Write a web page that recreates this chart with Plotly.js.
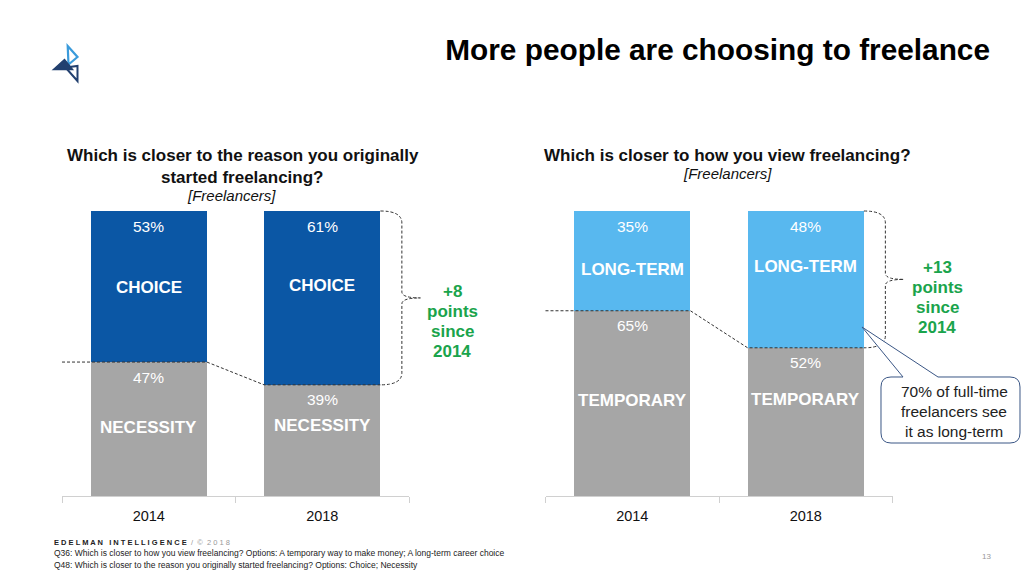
<!DOCTYPE html>
<html>
<head>
<meta charset="utf-8">
<script src="https://cdn.plot.ly/plotly-3.0.1.min.js"></script>
<style>html,body{margin:0;padding:0;background:#fff}#chart{width:1024px;height:576px}</style>
</head>
<body>
<div id="chart"></div>
<script>
// ---------- DATA ----------
const years = ['2014', '2018'];
const necessity = [47, 39];
const choice = [53, 61];
const temporary = [65, 52];
const longTerm = [35, 48];
const leftNames = ['NECESSITY', 'CHOICE'];
const rightNames = ['TEMPORARY', 'LONG-TERM'];
const calloutLines = ['70% of full-time', 'freelancers see', 'it as long-term'];

// ---------- LAYOUT CONSTANTS ----------
const W = 1024, H = 576;
const AX_L = [62, 409], AX_R = [545.5, 892.5];
const Y_BOT = 496, Y_TOP = 211;
const BARGAP = 0.33;
const FONT = 'Liberation Sans, Arial, Helvetica, sans-serif';
const DARK_BLUE = '#0B57A5', LIGHT_BLUE = '#58B8EF', GREY = '#A6A6A6', GREEN = '#1AA44C';
const NAVY = '#22406F', LOGO_LIGHT = '#3B9BDB';

const px = x => x / W;
const py = y => 1 - y / H;
const P = (x, y) => px(x).toFixed(5) + ',' + py(y).toFixed(5);
function catPx(ax, i, off) { const cw = (ax[1] - ax[0]) / years.length; return ax[0] + (i + 0.5 + off) * cw; }
function valPy(v) { return Y_BOT - v / 100 * (Y_BOT - Y_TOP); }

// label placement (axis units) for segment names
const leftNameY = { lower: [23.9, 24.9], upper: [73.0, 74.0] };
const rightNameY = { lower: [33.4, 34.0], upper: [79.6, 80.7] };

// ---------- TRACES ----------
const traces = [
  { type: 'bar', x: years, y: necessity, xaxis: 'x', yaxis: 'y', marker: { color: GREY }, hoverinfo: 'skip' },
  { type: 'bar', x: years, y: choice, xaxis: 'x', yaxis: 'y', marker: { color: DARK_BLUE }, hoverinfo: 'skip' },
  { type: 'bar', x: years, y: temporary, xaxis: 'x2', yaxis: 'y2', marker: { color: GREY }, hoverinfo: 'skip' },
  { type: 'bar', x: years, y: longTerm, xaxis: 'x2', yaxis: 'y2', marker: { color: LIGHT_BLUE }, hoverinfo: 'skip' }
];

// ---------- ANNOTATIONS ----------
const ann = [];
const pctFont = { family: FONT, size: 15.5, color: '#FFFFFF' };
const nameFont = { family: FONT, size: 17, color: '#FFFFFF' };
function barLabels(xr, yr, lower, upper, names, nameY) {
  years.forEach((yr_, i) => {
    // category axis: annotation x given as category index
    ann.push({ xref: xr, yref: yr, x: i, y: lower[i], text: lower[i] + '%', showarrow: false, yanchor: 'middle', yshift: -15, font: pctFont });
    ann.push({ xref: xr, yref: yr, x: i, y: lower[i] + upper[i], text: upper[i] + '%', showarrow: false, yanchor: 'middle', yshift: -15, font: pctFont });
    ann.push({ xref: xr, yref: yr, x: i, y: nameY.lower[i], text: '<b>' + names[0] + '</b>', showarrow: false, yanchor: 'middle', font: nameFont });
    ann.push({ xref: xr, yref: yr, x: i, y: nameY.upper[i], text: '<b>' + names[1] + '</b>', showarrow: false, yanchor: 'middle', font: nameFont });
  });
}
barLabels('x', 'y', necessity, choice, leftNames, leftNameY);
barLabels('x2', 'y2', temporary, longTerm, rightNames, rightNameY);

function textAt(x, y, text, size, opts) {
  ann.push(Object.assign({ xref: 'paper', yref: 'paper', x: px(x), y: py(y), text: text, showarrow: false,
    xanchor: 'center', yanchor: 'middle', font: { family: FONT, size: size, color: '#111' } }, opts || {}));
}
// subtitles
textAt(243, 155, '<b>Which is closer to the reason you originally</b>', 17);
textAt(242, 177, '<b>started freelancing?</b>', 17);
textAt(231, 195, '<i>[Freelancers]</i>', 15);
textAt(727, 155, '<b>Which is closer to how you view freelancing?</b>', 17);
textAt(727, 173, '<i>[Freelancers]</i>', 15);

// change labels (computed from data)
function changeLabel(x, y0, diff) {
  const lines = ['+' + diff, 'points', 'since', years[0]];
  lines.forEach((t, k) => textAt(x, y0 + 20 * k, '<b>' + t + '</b>', 17, { font: { family: FONT, size: 17, color: GREEN } }));
}
changeLabel(452, 291.5, choice[1] - choice[0]);
changeLabel(937, 267, longTerm[1] - longTerm[0]);

// callout text
calloutLines.forEach((t, k) => textAt(954, 391 + 20 * k, t, 15.5, { font: { family: FONT, size: 15.5, color: '#222' } }));

// footer
textAt(52, 542, '<b>E D E L M A N   I N T E L L I G E N C E</b>  <span style="color:#999">/  ©  2 0 1 8</span>', 7.5, { xanchor: 'left', font: { family: FONT, size: 7.5, color: '#222' } });
textAt(52, 553, 'Q36: Which is closer to how you view freelancing? Options: A temporary way to make money; A long-term career choice', 8.5, { xanchor: 'left', font: { family: FONT, size: 8.5, color: '#222' } });
textAt(52, 565, 'Q48: Which is closer to the reason you originally started freelancing? Options: Choice; Necessity', 8.5, { xanchor: 'left', font: { family: FONT, size: 8.5, color: '#222' } });
textAt(986, 556, '13', 8, { font: { family: FONT, size: 8, color: '#999' } });

// ---------- SHAPES ----------
const shapes = [];
const half = (1 - BARGAP) / 2;
const dashLine = { color: '#333', width: 1, dash: '3px,2px' };
function connector(ax, lower, upper) {
  const yA = valPy(lower[0]), yB = valPy(lower[1]), yT = valPy(lower[1] + upper[1]);
  const x0 = ax[0], x1 = catPx(ax, 0, half), x2 = catPx(ax, 1, -half), x3 = catPx(ax, 1, half);
  shapes.push({ type: 'path', xref: 'paper', yref: 'paper', line: dashLine,
    path: 'M' + P(x0, yA) + ' L' + P(x1, yA) + ' L' + P(x2, yB) + ' L' + P(x3, yB) });
  // curly bracket
  const xc = x3 + 21.5, xt = x3 + 40, ym = (yT + yB) / 2, r = 12;
  const path = 'M' + P(x3, yT) + ' Q' + P(xc, yT) + ' ' + P(xc, yT + r) +
    ' L' + P(xc, ym - 6) + ' Q' + P(xc, ym) + ' ' + P(xt, ym) +
    ' Q' + P(xc, ym) + ' ' + P(xc, ym + 6) +
    ' L' + P(xc, yB - r) + ' Q' + P(xc, yB) + ' ' + P(x3, yB);
  shapes.push({ type: 'path', xref: 'paper', yref: 'paper', line: dashLine, path: path });
}
connector(AX_L, necessity, choice);
connector(AX_R, temporary, longTerm);

// callout box with pointer
(function () {
  const L = 881, R = 1020, T = 377, B = 443, r = 10, g1 = 903, g2 = 938, tx = 862, ty = 327;
  const path = 'M' + P(g1, T) + ' L' + P(tx, ty) + ' L' + P(g2, T) + ' L' + P(R - r, T) +
    ' Q' + P(R, T) + ' ' + P(R, T + r) + ' L' + P(R, B - r) + ' Q' + P(R, B) + ' ' + P(R - r, B) +
    ' L' + P(L + r, B) + ' Q' + P(L, B) + ' ' + P(L, B - r) + ' L' + P(L, T + r) +
    ' Q' + P(L, T) + ' ' + P(L + r, T) + ' Z';
  shapes.push({ type: 'path', xref: 'paper', yref: 'paper', path: path, fillcolor: '#FFFFFF', line: { color: '#3A5685', width: 1 } });
})();

// logo
shapes.push({ type: 'path', xref: 'paper', yref: 'paper', path: 'M' + P(67.7, 46) + ' L' + P(77.5, 57) + ' L' + P(68.5, 64.5) + ' Z', line: { color: LOGO_LIGHT, width: 2.2 }, fillcolor: 'rgba(0,0,0,0)' });
shapes.push({ type: 'path', xref: 'paper', yref: 'paper', path: 'M' + P(53.5, 69.5) + ' L' + P(64.5, 59.5) + ' L' + P(72.5, 69.5) + ' Z', line: { color: NAVY, width: 1.5 }, fillcolor: NAVY });
shapes.push({ type: 'path', xref: 'paper', yref: 'paper', path: 'M' + P(65.5, 67.5) + ' L' + P(77.5, 66) + ' L' + P(77.5, 81) + ' Z', line: { color: NAVY, width: 2 }, fillcolor: 'rgba(0,0,0,0)' });

// ---------- AXES ----------
function xAxis(ax, anchor) {
  return { domain: [px(ax[0]), px(ax[1])], anchor: anchor, type: 'category', tickson: 'boundaries',
    range: [-0.5, years.length - 0.5],
    ticks: 'outside', ticklen: 6, tickcolor: '#D0D0D0', tickwidth: 1, showline: true, linecolor: '#D0D0D0', linewidth: 1,
    ticklabelstandoff: 7,
    showgrid: false, zeroline: false, fixedrange: true, tickfont: { family: FONT, size: 14.5, color: '#111' } };
}
function yAxis(anchor) {
  return { domain: [py(Y_BOT), py(Y_TOP)], anchor: anchor, range: [0, 100], visible: false, fixedrange: true };
}

const layout = {
  width: W, height: H, margin: { l: 0, r: 0, t: 0, b: 0 },
  paper_bgcolor: '#FFFFFF', plot_bgcolor: 'rgba(0,0,0,0)',
  barmode: 'stack', bargap: BARGAP, showlegend: false,
  title: { text: '<b>More people are choosing to freelance</b>', x: px(990), xanchor: 'right', y: py(50), yanchor: 'middle',
    font: { family: FONT, size: 29.8, color: '#000' } },
  xaxis: xAxis(AX_L, 'y'), yaxis: yAxis('x'),
  xaxis2: xAxis(AX_R, 'y2'), yaxis2: yAxis('x2'),
  annotations: ann, shapes: shapes, hovermode: false
};

Plotly.newPlot('chart', traces, layout, { displayModeBar: false, staticPlot: true });
</script>
</body>
</html>
